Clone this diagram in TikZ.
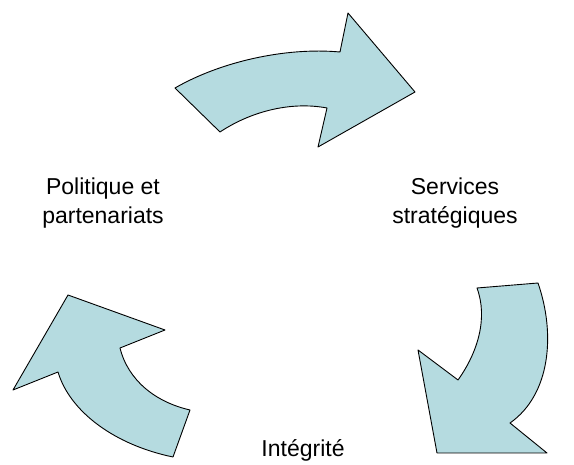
\documentclass[tikz,border=0pt]{standalone}
\usepackage{fontspec}
\setmainfont{Liberation Sans}

\definecolor{bleuclair}{RGB}{181,219,224}

\begin{document}
\begin{tikzpicture}[
	x=1pt, y=-1pt,
	fleche/.style={draw=black, fill=bleuclair, line width=0.9pt, line join=round},
	etiq/.style={align=center, inner sep=0pt, font=\fontsize{23}{29}\selectfont}
	]
	\useasboundingbox (0,0) rectangle (574,465);

	% fleche du haut
	\draw[fleche] (175,88) .. controls (220,62) and (285,47) .. (340,52) -- (348,13) -- (415,92)
		-- (318,147) -- (327,108) .. controls (290,101) and (250,112) .. (220,132) -- cycle;

	% fleche de droite
	\draw[fleche] (477,288) -- (538,283) .. controls (556,335) and (550,395) .. (510,423)
		-- (547,453) -- (437,453) -- (418,350) -- (458,380)
		.. controls (478,352) and (488,318) .. (477,288) -- cycle;

	% fleche de gauche
	\draw[fleche] (68,295) -- (165,330) -- (120,348) .. controls (128,380) and (155,402) .. (190,410)
		-- (173,457) .. controls (115,445) and (70,412) .. (58,372) -- (13,390) -- cycle;

	\node[etiq] (politique) at (103,203) {Politique et\\partenariats};
	\node[etiq] (services) at (455,203) {Services\\stratégiques};
	\node[etiq, anchor=base] (integrite) at (303,457) {Intégrité};
\end{tikzpicture}
\end{document}
